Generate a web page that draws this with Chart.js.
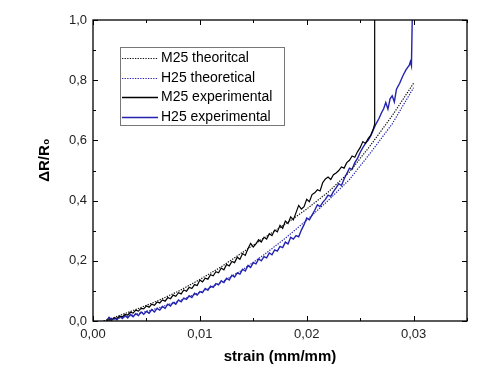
<!DOCTYPE html>
<html>
<head>
<meta charset="utf-8">
<script src="https://cdn.jsdelivr.net/npm/chart.js@4"></script>
<style>
  body { margin: 0; background: #fff; }
  canvas { display: block; }
</style>
</head>
<body>
<canvas id="chart" width="486" height="383"></canvas>
<script>
// values

const m25TheoX = [0.001,0.002,0.004,0.006,0.008,0.010,0.012,0.014,0.016,0.018,0.020,0.022,0.024,0.026,0.028,0.030];
const m25TheoY = [0.000,0.012,0.038,0.066,0.099,0.138,0.180,0.228,0.276,0.322,0.372,0.428,0.495,0.585,0.682,0.790];

const h25TheoX = [0.001,0.002,0.004,0.006,0.008,0.010,0.012,0.014,0.016,0.018,0.020,0.022,0.024,0.026,0.028,0.030];
const h25TheoY = [0.000,0.006,0.022,0.042,0.066,0.095,0.128,0.170,0.220,0.275,0.335,0.400,0.470,0.560,0.655,0.775];

// strain steps shared by both measured curves
const expStrain = [
    0.00125,0.0015,0.00175,0.002,0.00225,0.0025,0.00275,0.003,0.00325,0.0035,
    0.00375,0.004,0.00425,0.0045,0.00475,0.005,0.00525,0.0055,0.00575,0.006,
    0.00625,0.0065,0.00675,0.007,0.00725,0.0075,0.00775,0.008,0.00825,0.0085,
    0.00875,0.009,0.00925,0.0095,0.00975,0.01,0.01025,0.0105,0.01075,0.011,
    0.01125,0.0115,0.01175,0.012,0.01225,0.0125,0.01275,0.013,0.01325,0.0135,
    0.01375,0.014,0.01425,0.0145,0.01475,0.015,0.01525,0.0155,0.01575,0.016,
    0.01625,0.0165,0.01675,0.017,0.01725,0.0175,0.01775,0.018,0.01825,0.0185,
    0.01875,0.019,0.01925,0.0195,0.01975,0.02,0.02025,0.0205,0.02075,0.021,
    0.02125,0.0215,0.02175,0.022,0.02225,0.0225,0.02275,0.023,0.02325,0.0235,
    0.02375,0.024,0.02425,0.0245,0.02475,0.025,0.02525,0.0255,0.02575,0.026];

const m25ExpY = [
    0.000,0.004,0.003,0.010,0.009,0.016,0.014,0.022,0.020,0.029,
    0.026,0.036,0.033,0.042,0.040,0.050,0.046,0.056,0.052,0.063,
    0.060,0.070,0.066,0.078,0.074,0.086,0.082,0.094,0.090,0.103,
    0.099,0.112,0.108,0.121,0.118,0.136,0.130,0.142,0.139,0.154,
    0.150,0.164,0.160,0.176,0.170,0.188,0.183,0.198,0.194,0.212,
    0.205,0.224,0.218,0.240,0.258,0.246,0.256,0.270,0.262,0.278,
    0.272,0.290,0.284,0.302,0.296,0.318,0.308,0.332,0.324,0.346,
    0.336,0.360,0.384,0.372,0.380,0.404,0.396,0.420,0.426,0.436,
    0.432,0.460,0.472,0.478,0.470,0.486,0.492,0.500,0.512,0.508,
    0.526,0.534,0.548,0.544,0.562,0.576,0.596,0.590,0.606,0.618];
// end of M25 run: the jump to failure
const m25TailX = [0.02625,0.02636,0.02636];
const m25TailY = [0.640,0.655,1.050];

const h25ExpY = [
    0.000,0.012,0.004,0.010,0.004,0.016,0.008,0.018,0.010,0.022,
    0.014,0.024,0.018,0.030,0.022,0.032,0.026,0.038,0.030,0.042,
    0.036,0.048,0.042,0.056,0.050,0.062,0.056,0.070,0.064,0.076,
    0.072,0.084,0.078,0.092,0.086,0.098,0.094,0.108,0.102,0.116,
    0.112,0.124,0.120,0.134,0.128,0.142,0.136,0.152,0.146,0.160,
    0.156,0.172,0.166,0.184,0.178,0.194,0.190,0.206,0.200,0.214,
    0.210,0.226,0.220,0.236,0.232,0.248,0.244,0.262,0.256,0.278,
    0.272,0.284,0.280,0.302,0.320,0.342,0.336,0.352,0.368,0.386,
    0.380,0.394,0.404,0.418,0.414,0.430,0.442,0.456,0.450,0.472,
    0.490,0.508,0.504,0.526,0.540,0.560,0.576,0.590,0.600,0.616];
const h25TailX = [0.02625,0.0265,0.02675,0.027,0.0272,0.0274,0.0276,0.0278,0.028,0.0282,
                  0.0284,0.0287,0.029,0.0293,0.0296,0.0297,0.0298,0.0299];
const h25TailY = [0.636,0.656,0.672,0.692,0.705,0.726,0.704,0.738,0.748,0.728,
                  0.770,0.790,0.815,0.835,0.850,0.862,0.848,1.050];

const seriesLabels = ["M25 theoritcal","H25 theoretical","M25 experimental","H25 experimental"];

const BLUE = "#2323b0";
const FONT = 'Arial, "Liberation Sans", sans-serif';

const pts = (xs,ys)=>xs.map((x,i)=>({x,y:ys[i]}));

const data = {
    datasets : [{
        label : seriesLabels[0],
        data : pts(m25TheoX,m25TheoY),
        borderColor : "#111",
        borderWidth : 1.2,
        borderDash : [1.3,1.3]
    },{
        label : seriesLabels[1],
        data : pts(h25TheoX,h25TheoY),
        borderColor : BLUE,
        borderWidth : 1.2,
        borderDash : [1.3,1.3]
    },{
        label : seriesLabels[2],
        data : pts(expStrain.concat(m25TailX), m25ExpY.concat(m25TailY)),
        borderColor : "#000",
        borderWidth : 1.2
    },{
        label : seriesLabels[3],
        data : pts(expStrain.concat(h25TailX), h25ExpY.concat(h25TailY)),
        borderColor : BLUE,
        borderWidth : 1.4
    }]
};

// frame, inward ticks on all four sides, boxed legend
const framePlugin = {
    id : "frame",
    afterDatasetsDraw(chart){
        const {ctx, chartArea:a, scales} = chart;
        ctx.save();
        ctx.strokeStyle = "#000";
        ctx.lineWidth = 1.3;
        ctx.strokeRect(a.left, a.top, a.right-a.left, a.bottom-a.top);
        ctx.lineWidth = 1;
        ctx.beginPath();
        scales.x.ticks.forEach(t=>{
            const px = Math.round(scales.x.getPixelForValue(t.value)) + 0.5;
            const len = t.label ? 5 : 3;
            ctx.moveTo(px, a.bottom); ctx.lineTo(px, a.bottom-len);
            ctx.moveTo(px, a.top); ctx.lineTo(px, a.top+len);
        });
        scales.y.ticks.forEach(t=>{
            const py = Math.round(scales.y.getPixelForValue(t.value)) + 0.5;
            const len = t.label ? 5 : 3;
            ctx.moveTo(a.left, py); ctx.lineTo(a.left+len, py);
            ctx.moveTo(a.right, py); ctx.lineTo(a.right-len, py);
        });
        ctx.stroke();
        ctx.restore();
    },
    afterDraw(chart){
        const ctx = chart.ctx;
        const box = {x:120.5, y:47.5, w:164, h:78};
        ctx.save();
        ctx.fillStyle = "#fff";
        ctx.fillRect(box.x, box.y, box.w, box.h);
        ctx.strokeStyle = "#777";
        ctx.lineWidth = 1;
        ctx.strokeRect(box.x, box.y, box.w, box.h);
        ctx.font = "14px " + FONT;
        ctx.textBaseline = "middle";
        chart.data.datasets.forEach((ds,i)=>{
            const y = 58 + i*19.7;
            ctx.strokeStyle = ds.borderColor;
            ctx.lineWidth = ds.borderDash ? 1.2 : 1.5;
            ctx.setLineDash(ds.borderDash || []);
            ctx.beginPath();
            ctx.moveTo(122, Math.round(y)+0.5);
            ctx.lineTo(158, Math.round(y)+0.5);
            ctx.stroke();
            ctx.setLineDash([]);
            ctx.fillStyle = "#000";
            ctx.fillText(ds.label, 161, y);
        });
        ctx.restore();
    }
};

const config = {
    type : "scatter",
    data,
    options : {
        responsive : false,
        animation : false,
        showLine : true,
        elements : { point : { radius : 0 }, line : { tension : 0 } },
        layout : { padding : { top : 20, right : 19, left : 0, bottom : 0 } },
        plugins : { legend : { display : false }, tooltip : { enabled : false } },
        scales : {
            x : {
                type : "linear",
                min : 0, max : 0.035,
                afterFit(scale){ scale.height = 62; },
                grid : { display : false, drawTicks : false },
                border : { display : false },
                ticks : {
                    stepSize : 0.005,
                    padding : 6,
                    color : "#222",
                    font : { family : FONT, size : 13 },
                    maxRotation : 0,
                    autoSkip : false,
                    callback : (v)=> Math.round(v*1000) % 10 === 0 ? v.toFixed(2).replace(".",",") : ""
                },
                title : {
                    display : true,
                    text : "strain (mm/mm)",
                    color : "#000",
                    font : { family : FONT, size : 15, weight : "bold" },
                    padding : { top : 0, bottom : 17 }
                }
            },
            y : {
                min : 0, max : 1,
                afterFit(scale){ scale.width = 93; },
                grid : { display : false, drawTicks : false },
                border : { display : false },
                ticks : {
                    stepSize : 0.1,
                    padding : 6,
                    color : "#222",
                    font : { family : FONT, size : 13 },
                    autoSkip : false,
                    callback : (v)=> Math.round(v*10) % 2 === 0 ? v.toFixed(1).replace(".",",") : ""
                },
                title : {
                    display : true,
                    text : "     ΔR/R₀",
                    color : "#000",
                    font : { family : FONT, size : 15, weight : "bold" },
                    padding : { top : 36, bottom : 0 }
                }
            }
        }
    },
    plugins : [framePlugin]
};

const chart = new Chart(document.getElementById("chart").getContext("2d"), config);
</script>
</body>
</html>
